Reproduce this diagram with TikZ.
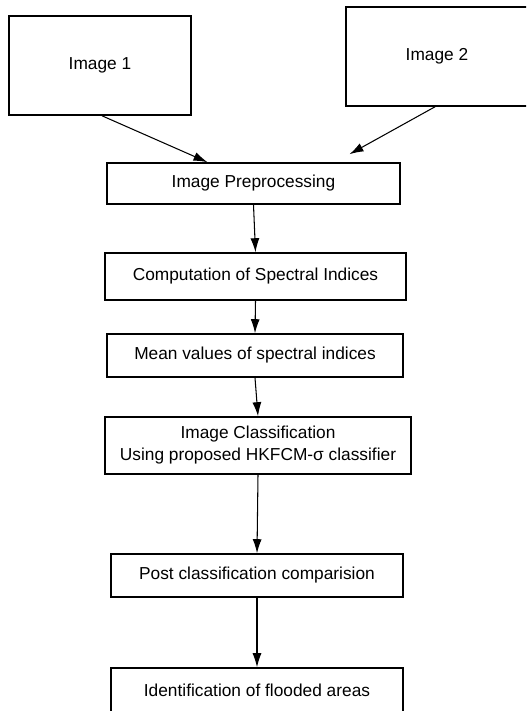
\documentclass[tikz,border=0pt]{standalone}
\usepackage{fontspec}
\setmainfont{Liberation Sans}
\usetikzlibrary{%
  arrows.meta,%
  calc,%
  positioning% wg. " of "
}

\begin{document}
\begin{tikzpicture}
[x=0.2mm, y=-0.2mm, line width=0.6pt, >={Latex[length=2.8mm,width=1.8mm]},
stage/.style={rectangle, draw, line width=0.9pt, inner sep=0pt, align=center,
  font=\fontsize{9.85}{12.5}\selectfont},
source/.style={stage, minimum width=36.4mm, minimum height=19.8mm}]

\useasboundingbox (0,0) rectangle (526,711);
\clip (0,0) rectangle (526,711);

\node[source] (image1) at (100,65.5) {Image 1};
\node[source] (image2) at (437,56.5) {Image 2};

\node[stage, minimum width=58.6mm, minimum height=8.2mm] (preproc) at (253.5,183.5) {Image Preprocessing};
\node[stage, minimum width=60.2mm, minimum height=9.4mm] (indices) at (255.5,276.5) {Computation of Spectral Indices};
\node[stage, minimum width=59.2mm, minimum height=8.6mm] (meanval) at (255,355.5) {Mean values of spectral indices};
\node[stage, minimum width=61.2mm, minimum height=11.4mm] (classify) at (258,445.5) {Image Classification\\Using proposed HKFCM-σ classifier};
\node[stage, minimum width=58.4mm, minimum height=8.6mm] (postclass) at (257,575.5) {Post classification comparision};
\node[stage, minimum width=58.4mm, minimum height=8.8mm] (flooded) at (257,690) {Identification of flooded areas};

\draw[->] ($(image1.south)+(2,0)$) -- ($(preproc.north)+(-46,0)$);
\draw[->] ($(image2.south)+(-2,0)$) -- ($(preproc.north)+(96,-8)$);

\draw[->] (preproc.south) -- (indices.north);
\draw[->] (indices.south) -- (meanval.north);
\draw[->] (meanval.south) -- (classify.north);
\draw[->] (classify.south) -- (postclass.north);
\draw[->] (postclass.south) -- (flooded.north);
\end{tikzpicture}
\end{document}
